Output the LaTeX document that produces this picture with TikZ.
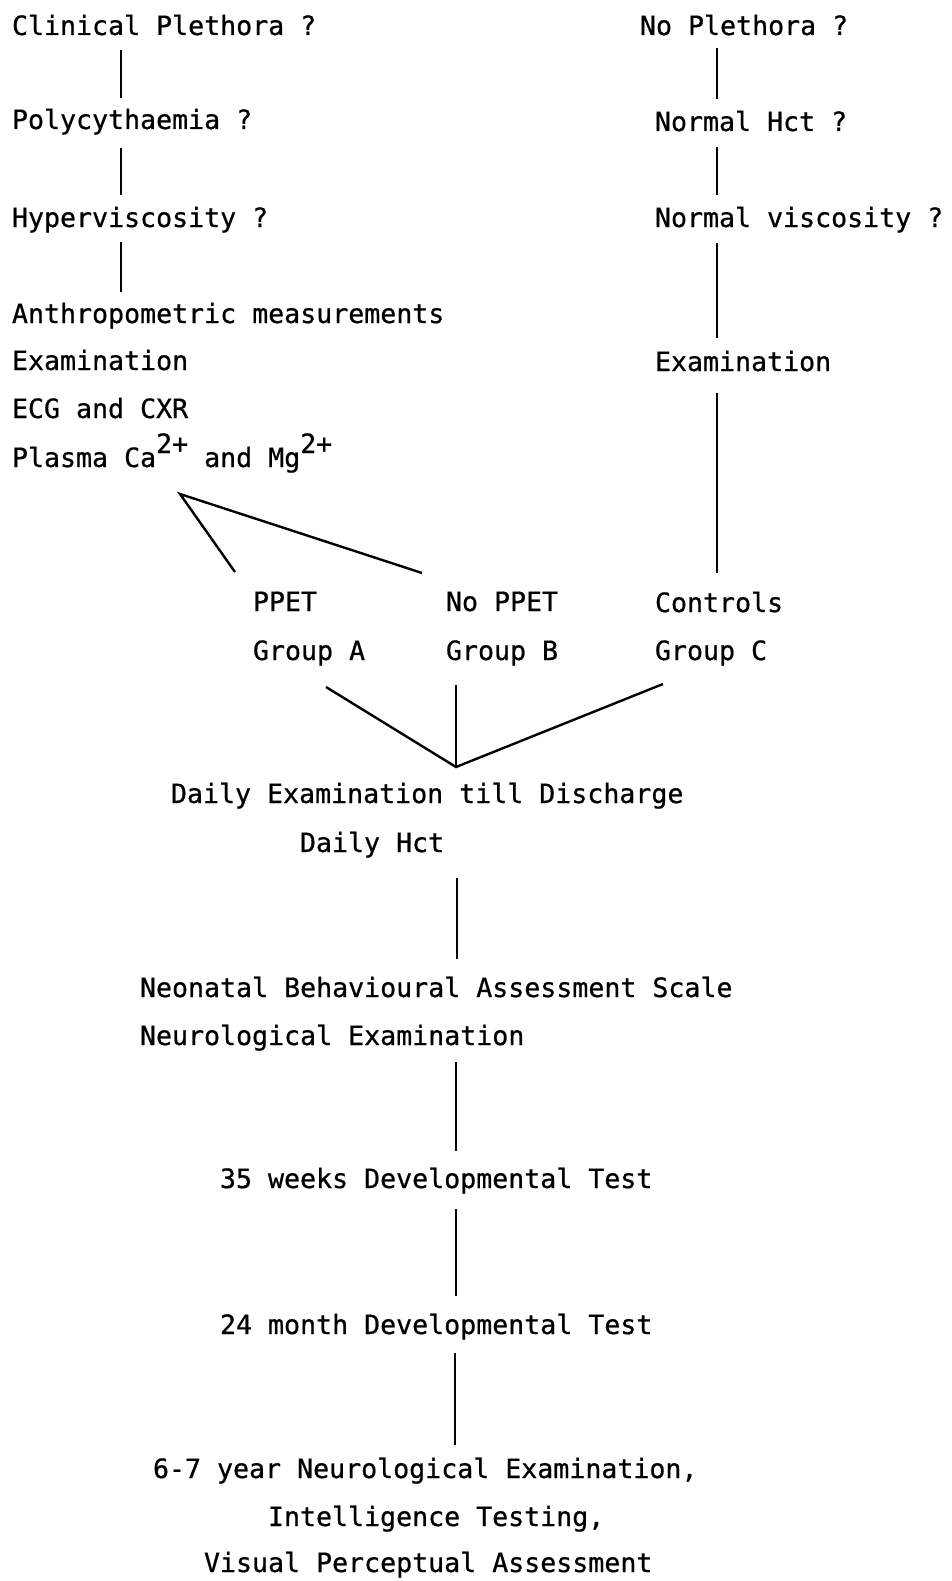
\documentclass[tikz,border=0pt]{standalone}
\usepackage{fontspec}
\newfontfamily\twfont{DejaVu Sans Mono}[FakeBold=0.7]
\newcommand{\supp}[1]{\raisebox{14pt}{#1}}
\begin{document}
\begin{tikzpicture}[x=1pt,y=-1pt,
  lbl/.style={anchor=base west,inner sep=0pt,outer sep=0pt,
    font=\twfont\fontsize{26.6}{30}\selectfont},
  conn/.style={line width=2.4pt}]
\useasboundingbox (0,0) rectangle (952,1581);
% left column
\node[lbl] (c1) at (12,35) {Clinical Plethora ?};
\node[lbl] (c2) at (12,129) {Polycythaemia ?};
\node[lbl] (c3) at (12,227) {Hyperviscosity ?};
\node[lbl] (c4) at (12,323) {Anthropometric measurements};
\node[lbl] (c5) at (12,370) {Examination};
\node[lbl] (c6) at (12,418) {ECG and CXR};
\node[lbl] (c7) at (12,467) {Plasma Ca\supp{2+} and Mg\supp{2+}};
% right column
\node[lbl] (r1) at (640,35) {No Plethora ?};
\node[lbl] (r2) at (655,131) {Normal Hct ?};
\node[lbl] (r3) at (655,227) {Normal viscosity ?};
\node[lbl] (r4) at (655,371) {Examination};
% groups
\node[lbl] (ga1) at (253,611) {PPET};
\node[lbl] (ga2) at (253,660) {Group A};
\node[lbl] (gb1) at (446,611) {No PPET};
\node[lbl] (gb2) at (446,660) {Group B};
\node[lbl] (gc1) at (655,612) {Controls};
\node[lbl] (gc2) at (655,660) {Group C};
% lower chain
\node[lbl] (d1) at (171,803) {Daily Examination till Discharge};
\node[lbl] (d2) at (300,852) {Daily Hct};
\node[lbl] (n1) at (140,997) {Neonatal Behavioural Assessment Scale};
\node[lbl] (n2) at (140,1045) {Neurological Examination};
\node[lbl] (w35) at (220,1188) {35 weeks Developmental Test};
\node[lbl] (m24) at (220,1334) {24 month Developmental Test};
\node[lbl] (y1) at (153,1478) {6-7 year Neurological Examination,};
\node[lbl] (y2) at (268,1526) {Intelligence Testing,};
\node[lbl] (y3) at (204,1572) {Visual Perceptual Assessment};
% connector end points
\coordinate (L1a) at (121,50);  \coordinate (L1b) at (121,98);
\coordinate (L2a) at (121,148); \coordinate (L2b) at (121,195);
\coordinate (L3a) at (121,242); \coordinate (L3b) at (121,292);
\coordinate (R1a) at (717,48);  \coordinate (R1b) at (717,99);
\coordinate (R2a) at (717,147); \coordinate (R2b) at (717,195);
\coordinate (R3a) at (717,243); \coordinate (R3b) at (717,338);
\coordinate (R4a) at (717,393); \coordinate (R4b) at (717,573);
\coordinate (apex) at (180,494);
\coordinate (toA) at (235,572);
\coordinate (toB) at (422,573);
\coordinate (fromA) at (326,687);
\coordinate (fromB) at (456,685);
\coordinate (fromC) at (663,684);
\coordinate (join) at (456,767);
\coordinate (V1a) at (457,878);  \coordinate (V1b) at (457,959);
\coordinate (V2a) at (456,1062); \coordinate (V2b) at (456,1151);
\coordinate (V3a) at (456,1209); \coordinate (V3b) at (456,1296);
\coordinate (V4a) at (455,1353); \coordinate (V4b) at (455,1445);
% connectors
\draw[conn] (L1a) -- (L1b);
\draw[conn] (L2a) -- (L2b);
\draw[conn] (L3a) -- (L3b);
\draw[conn] (R1a) -- (R1b);
\draw[conn] (R2a) -- (R2b);
\draw[conn] (R3a) -- (R3b);
\draw[conn] (R4a) -- (R4b);
\draw[conn,line join=miter] (toA) -- (apex) -- (toB);
\draw[conn] (fromA) -- (join) -- (fromC);
\draw[conn] (fromB) -- (join);
\draw[conn] (V1a) -- (V1b);
\draw[conn] (V2a) -- (V2b);
\draw[conn] (V3a) -- (V3b);
\draw[conn] (V4a) -- (V4b);
\end{tikzpicture}
\end{document}
